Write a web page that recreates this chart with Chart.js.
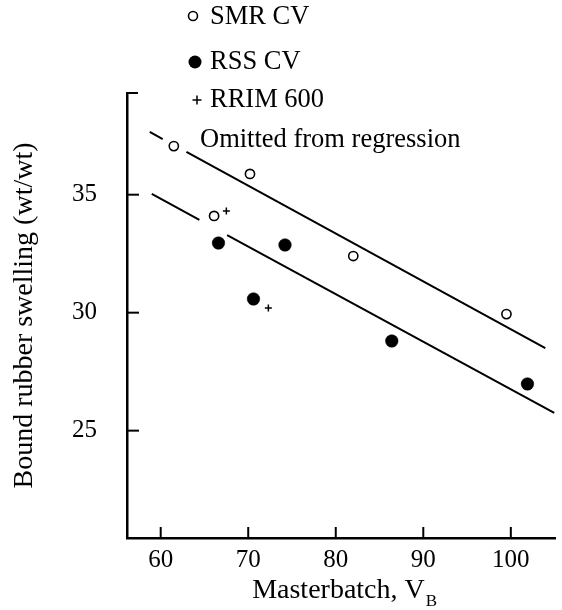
<!DOCTYPE html>
<html><head><meta charset="utf-8">
<script src="https://cdn.jsdelivr.net/npm/chart.js@4"></script>
<style>html,body{margin:0;padding:0;background:#fff}#wrap{width:562px;height:610px;position:relative}</style>
</head><body><div id="wrap"><canvas id="c"></canvas></div>
<script>
// ---- data ----
const xTicks = [60, 70, 80, 90, 100];
const yTicks = [25, 30, 35];
const smrX = [61.5, 70.2, 66.1, 82.0, 99.5];
const smrY = [37.06, 35.88, 34.10, 32.40, 29.94];
const rssX = [66.6, 74.2, 70.6, 86.4, 101.9];
const rssY = [32.95, 32.87, 30.58, 28.80, 26.98];
const rrimX = [67.5, 72.3];
const rrimY = [34.31, 30.20];
const upperLineX = [[58.75, 60.23], [62.94, 103.94]];
const upperLineY = [[37.66, 37.36], [36.81, 28.50]];
const lowerLineX = [[58.98, 64.42], [67.59, 104.96]];
const lowerLineY = [[35.03, 33.93], [33.29, 25.75]];
const legendLabels = ['SMR CV', 'RSS CV', 'RRIM 600', 'Omitted from regression'];
const xTitle = 'Masterbatch, V';
const xTitleSub = 'B';
const yTitle = 'Bound rubber swelling (wt/wt)';

const FONT = '"Liberation Serif", "Times New Roman", serif';
const zip = (xs, ys) => xs.map((x, i) => ({x: x, y: ys[i]}));

const lineDs = (xs, ys) => ({
  data: zip(xs, ys), showLine: true, pointRadius: 0, borderColor: '#000',
  borderWidth: 2, fill: false, order: 5
});

const decor = {
  id: 'decor',
  afterDraw(chart) {
    const ctx = chart.ctx, a = chart.chartArea, xs = chart.scales.x, ys = chart.scales.y;
    ctx.save();
    ctx.strokeStyle = '#000'; ctx.fillStyle = '#000'; ctx.lineWidth = 2;
    yTicks.forEach(v => { const y = ys.getPixelForValue(v); ctx.beginPath(); ctx.moveTo(a.left, y); ctx.lineTo(a.left + 12, y); ctx.stroke(); });
    ctx.beginPath(); ctx.moveTo(a.left - 1, a.top); ctx.lineTo(a.left + 11, a.top); ctx.stroke();
    xTicks.forEach(v => { const x = xs.getPixelForValue(v); ctx.beginPath(); ctx.moveTo(x, a.bottom); ctx.lineTo(x, a.bottom - 11); ctx.stroke(); });
    // x title with subscript
    ctx.textAlign = 'left'; ctx.textBaseline = 'alphabetic';
    ctx.font = '28px ' + FONT; const w1 = ctx.measureText(xTitle).width;
    ctx.font = '17px ' + FONT; const w2 = ctx.measureText(xTitleSub).width;
    const sx = (a.left + a.right) / 2 + 3 - (w1 + w2) / 2;
    ctx.font = '28px ' + FONT; ctx.fillText(xTitle, sx, 598);
    ctx.font = '17px ' + FONT; ctx.fillText(xTitleSub, sx + w1 + 1, 606);
    // legend
    ctx.font = '26.5px ' + FONT; ctx.textBaseline = 'middle';
    ctx.lineWidth = 1.6;
    ctx.beginPath(); ctx.arc(193, 16, 4.5, 0, Math.PI * 2); ctx.fillStyle = '#fff'; ctx.fill(); ctx.stroke();
    ctx.fillStyle = '#000';
    ctx.fillText(legendLabels[0], 210, 17);
    ctx.beginPath(); ctx.arc(195, 62, 6.5, 0, Math.PI * 2); ctx.fill();
    ctx.fillText(legendLabels[1], 210, 62);
    ctx.lineWidth = 1.5;
    ctx.beginPath(); ctx.moveTo(192.5, 100); ctx.lineTo(201.5, 100); ctx.moveTo(197, 95.5); ctx.lineTo(197, 104.5); ctx.stroke();
    ctx.fillText(legendLabels[2], 210, 100);
    ctx.fillText(legendLabels[3], 200, 140);
    ctx.restore();
  }
};

new Chart(document.getElementById('c'), {
  type: 'scatter',
  data: {
    datasets: [
      {label: legendLabels[0], data: zip(smrX, smrY), pointStyle: 'circle', pointRadius: 4.6, borderWidth: 1.6,
       borderColor: '#000', backgroundColor: '#fff', order: 1},
      {label: legendLabels[1], data: zip(rssX, rssY), pointStyle: 'circle', pointRadius: 6.3, borderWidth: 0.5,
       borderColor: '#000', backgroundColor: '#000', order: 1},
      {label: legendLabels[2], data: zip(rrimX, rrimY), pointStyle: 'cross', pointRadius: 3.5, borderWidth: 1.5,
       borderColor: '#000', backgroundColor: '#000', order: 1},
      lineDs(upperLineX[0], upperLineY[0]),
      lineDs(upperLineX[1], upperLineY[1]),
      lineDs(lowerLineX[0], lowerLineY[0]),
      lineDs(lowerLineX[1], lowerLineY[1])
    ]
  },
  options: {
    responsive: true, maintainAspectRatio: false, animation: false, devicePixelRatio: 1,
    layout: {padding: {top: 93, right: 3, left: 0, bottom: 0}},
    plugins: {legend: {display: false}, tooltip: {enabled: false}, title: {display: false}},
    scales: {
      x: {
        type: 'linear', min: 56.15, max: 105.07,
        afterFit(s) { s.height = 72; },
        afterBuildTicks(s) { s.ticks = xTicks.map(v => ({value: v})); },
        ticks: {padding: 7, color: '#000', font: {family: FONT, size: 25}},
        grid: {drawOnChartArea: false, drawTicks: false},
        border: {color: '#000', width: 2.5}
      },
      y: {
        type: 'linear', min: 20.45, max: 39.31,
        afterFit(s) { s.width = 127; },
        afterBuildTicks(s) { s.ticks = yTicks.map(v => ({value: v})); },
        ticks: {padding: 30, color: '#000', font: {family: FONT, size: 25}},
        grid: {drawOnChartArea: false, drawTicks: false},
        border: {color: '#000', width: 2.5},
        title: {display: true, text: yTitle, color: '#000', font: {family: FONT, size: 28}, padding: {top: 8, bottom: 0}}
      }
    }
  },
  plugins: [decor]
});
</script>
</body></html>
